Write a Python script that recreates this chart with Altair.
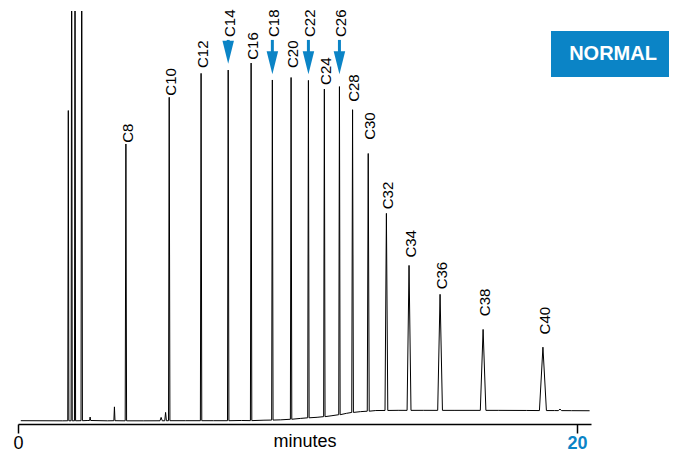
import altair as alt
import pandas as pd

BLUE = "#0B84C6"
FONT = "Liberation Sans"

# ---- baseline of the trace (time in minutes, relative response %) ----
base_time = [0.10, 1.60, 2.50, 3.20, 4.50, 6.00, 7.00, 8.00, 8.80, 9.40, 10.10,
             10.70, 11.20, 11.75, 12.25, 12.80, 13.60, 14.50, 15.60, 17.20,
             18.20, 19.20, 19.80, 20.45]
base_signal = [0.80, 0.77, 0.85, 0.77, 0.77, 0.80, 0.80, 0.85, 0.92, 1.01, 1.35,
               1.62, 1.98, 2.58, 2.99, 3.26, 3.31, 3.31, 3.30, 3.30,
               3.28, 3.25, 3.23, 3.21]

# ---- labelled n-alkane peaks ----
alkane_label = ["C8", "C10", "C12", "C14", "C16", "C18", "C20", "C22", "C24",
                "C26", "C28", "C30", "C32", "C34", "C36", "C38", "C40"]
alkane_time = [3.86, 5.41, 6.55, 7.52, 8.34, 9.10, 9.77, 10.39, 10.96,
               11.50, 11.97, 12.53, 13.18, 13.99, 15.10, 16.64, 18.78]
alkane_height = [67.8, 79.1, 84.9, 85.7, 87.4, 83.3, 83.9, 83.2, 81.1,
                 81.7, 76.1, 65.5, 51.0, 38.4, 31.4, 22.9, 18.6]
alkane_base = [0.77, 0.80, 0.80, 0.80, 0.82, 0.95, 1.15, 1.50, 1.78,
               2.25, 2.80, 3.10, 3.28, 3.30, 3.30, 3.30, 3.25]
alkane_halfwidth = [0.025, 0.025, 0.025, 0.025, 0.025, 0.025, 0.025, 0.025, 0.025,
                    0.025, 0.03, 0.035, 0.05, 0.07, 0.085, 0.10, 0.125]
label_pos = [68.1, 79.5, 86.2, 93.7, 88.2, 93.7, 86.2, 93.7, 82.1,
             93.7, 78.0, 68.8, 52.0, 40.3, 32.6, 26.1, 21.7]

# ---- solvent and minor peaks ----
other_time = [1.80, 1.92, 2.04, 2.28, 2.58, 3.45, 5.12, 5.28, 19.39]
other_height = [75.9, 130.0, 130.0, 130.0, 1.69, 4.15, 1.60, 2.80, 3.60]
other_base = [0.78, 0.78, 0.78, 0.80, 0.85, 0.80, 0.78, 0.78, 3.24]
other_halfwidth = [0.02, 0.02, 0.02, 0.025, 0.02, 0.02, 0.04, 0.03, 0.06]

# ---- highlighted peaks (arrows) ----
arrow_label = ["C14", "C18", "C22", "C26"]
arrow_time = [7.52, 9.10, 10.39, 11.50]
arrow_tip = [87.2, 84.7, 84.7, 84.7]
arrow_top = [93.0, 93.0, 93.0, 93.0]

x_ticks = [0, 20]

# ---- build trace table ----
rows = [{"t": t, "s": s} for t, s in zip(base_time, base_signal)]
for t, h, b, w in list(zip(alkane_time, alkane_height, alkane_base, alkane_halfwidth)) + \
        list(zip(other_time, other_height, other_base, other_halfwidth)):
    rows += [{"t": t - w, "s": b}, {"t": t, "s": h}, {"t": t + w, "s": b}]
trace = pd.DataFrame(rows).sort_values("t").reset_index(drop=True)
trace["i"] = range(len(trace))

labels = pd.DataFrame({"label": alkane_label, "t": alkane_time, "pos": label_pos})
arrows = pd.DataFrame({"label": arrow_label, "t": arrow_time, "tip": arrow_tip,
                       "top": arrow_top})
arrows["shaft_end"] = [v + 5.0 for v in arrows["tip"]]

xscale = alt.Scale(domain=[0, 20.5], nice=False, zero=False)
yscale = alt.Scale(domain=[0, 100], nice=False, zero=True)

xaxis = alt.Axis(
    values=x_ticks, title="minutes", grid=False,
    domainColor="black", domainWidth=1.5, tickColor="black", tickWidth=1.5,
    tickSize=9, labelFontSize=18, labelFont=FONT, labelPadding=1,
    labelFlush=False,
    labelColor=alt.expr(f"datum.value == 20 ? '{BLUE}' : '#000000'"),
    labelFontWeight=alt.expr("datum.value == 20 ? 'bold' : 'normal'"),
    titleFont=FONT, titleFontSize=18, titleFontWeight="normal", titleColor="black",
    titleY=22.5, titleBaseline="alphabetic",
)

line = alt.Chart(trace).mark_line(color="#000000", strokeWidth=1, clip=True).encode(
    x=alt.X("t:Q", scale=xscale, axis=xaxis),
    y=alt.Y("s:Q", scale=yscale, axis=None),
    order="i:Q",
)

text = alt.Chart(labels).mark_text(
    angle=270, align="left", baseline="middle", fontSize=15, font=FONT,
    color="#000000", dy=1.8,
).encode(x=alt.X("t:Q", scale=xscale), y=alt.Y("pos:Q", scale=yscale), text="label:N")

shaft = alt.Chart(arrows).mark_rule(color=BLUE, strokeWidth=3, strokeCap="butt").encode(
    x=alt.X("t:Q", scale=xscale), y=alt.Y("top:Q", scale=yscale), y2="shaft_end:Q"
)
head = alt.Chart(arrows).mark_point(
    shape="M-0.5,-2L0.5,-2L0,0Z", filled=True, size=529, color=BLUE, opacity=1,
    strokeWidth=0,
).encode(x=alt.X("t:Q", scale=xscale), y=alt.Y("tip:Q", scale=yscale))

badge_df = pd.DataFrame({"name": ["NORMAL"]})
badge = alt.Chart(badge_df).mark_rect(color=BLUE).encode(
    x=alt.value(533), x2=alt.value(690), y=alt.value(20), y2=alt.value(66)
)
badge_text = alt.Chart(badge_df).mark_text(
    color="white", fontSize=20, fontWeight="bold", font=FONT, align="center",
    baseline="middle",
).encode(x=alt.value(595), y=alt.value(42.7), text="name:N")

chart = alt.layer(line, text, shaft, head, badge, badge_text).properties(
    width=573, height=413,
    padding={"left": 10, "top": 3, "right": 78, "bottom": 27},
    autosize="none",
).configure_view(strokeWidth=0)

chart.save("out.html", embed_options={"renderer": "svg", "actions": False})
